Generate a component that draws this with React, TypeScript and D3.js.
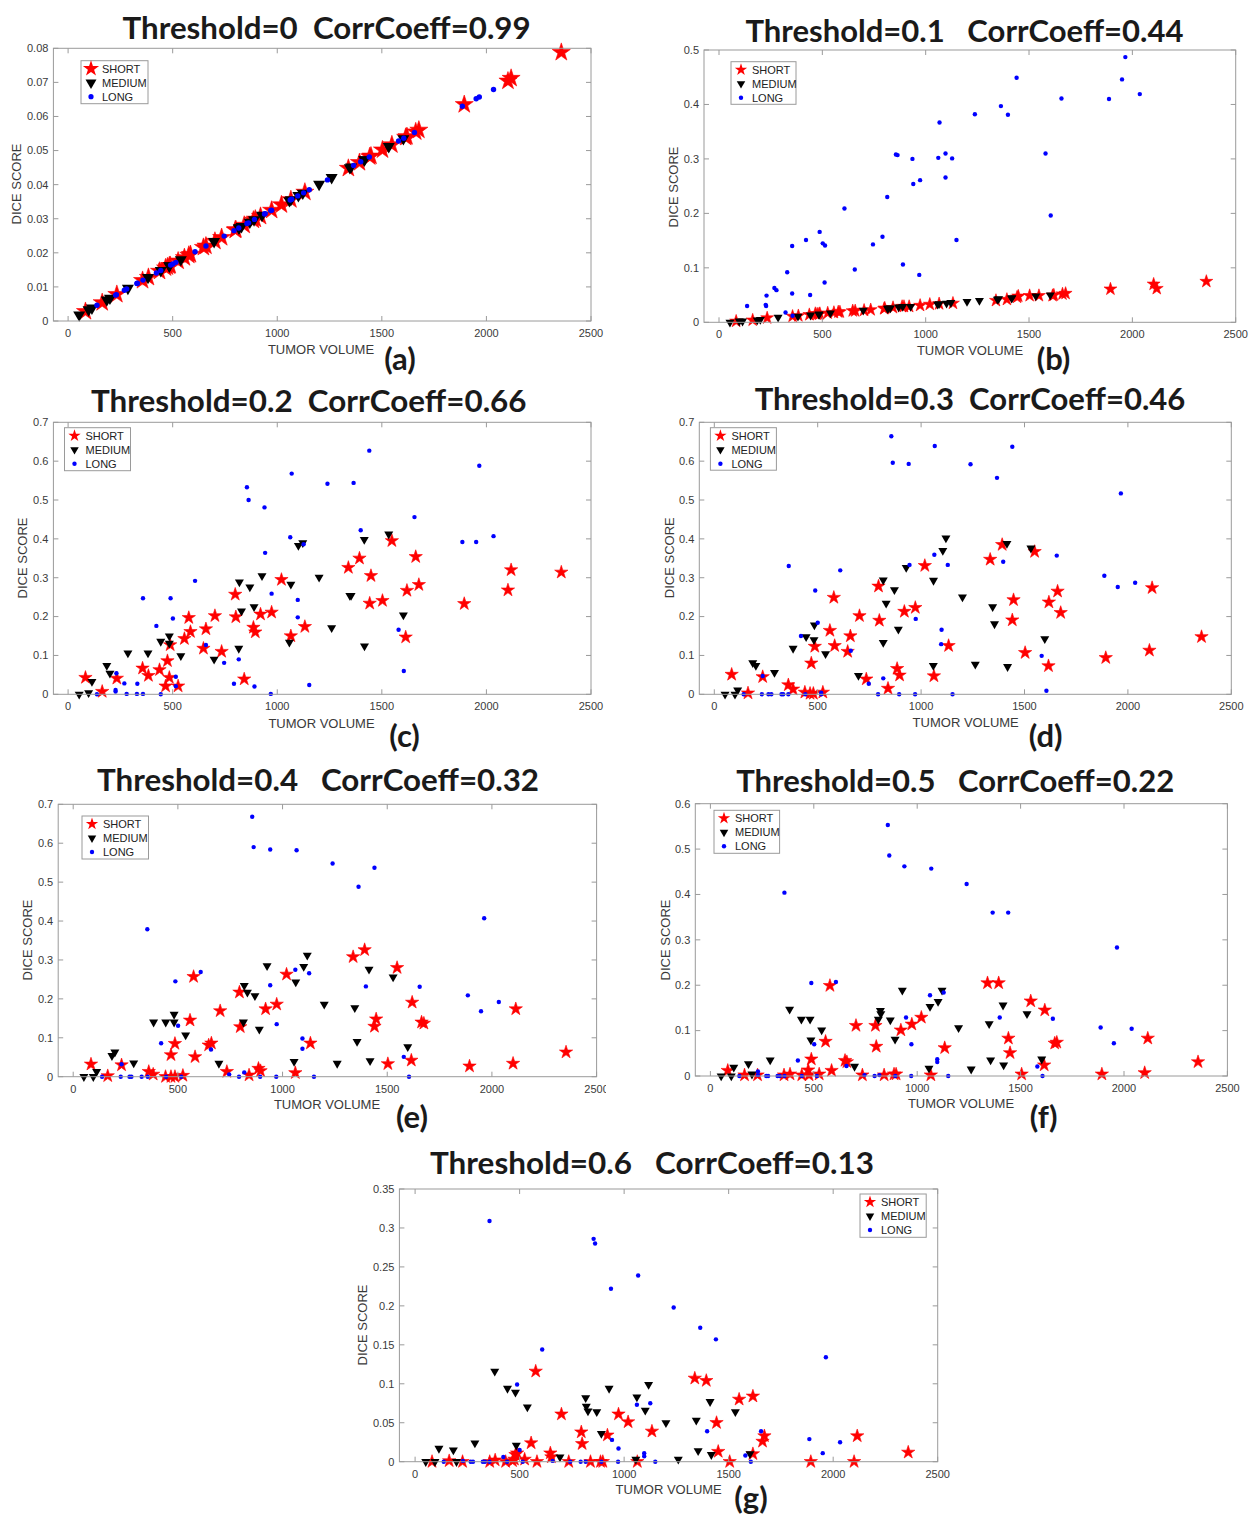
import React from "react";
import * as d3 from "d3";

type P = [number, number];

// ---------- data (tumor volume, dice score) ----------
const aShort: P[] = [[83,0.0028],[163,0.0054],[233,0.0078],[356,0.0119],[384,0.0128],[437,0.0146],[475,0.0159],[466,0.0156],[488,0.0163],[484,0.0162],[526,0.0176],[556,0.0186],[577,0.0193],[585,0.0195],[647,0.0216],[659,0.0220],[702,0.0234],[734,0.0245],[799,0.0267],[802,0.0268],[842,0.0281],[886,0.0296],[895,0.0299],[920,0.0307],[973,0.0325],[1020,0.0341],[1065,0.0356],[1132,0.0378],[1340,0.0448],[1393,0.0465],[1448,0.0484],[1442,0.0482],[1503,0.0502],[1548,0.0517],[1620,0.0541],[1614,0.0539],[1662,0.0555],[1677,0.0560],[1894,0.0635],[2103,0.0704],[2118,0.0712],[2358,0.0788]];
const aMedium: P[] = [[53,0.0018],[98,0.0033],[114,0.0038],[185,0.0062],[200,0.0067],[286,0.0096],[382,0.0128],[443,0.0148],[484,0.0162],[484,0.0162],[539,0.0180],[698,0.0233],[816,0.0273],[819,0.0274],[829,0.0277],[869,0.0290],[889,0.0297],[927,0.0310],[1065,0.0356],[1058,0.0353],[1101,0.0368],[1122,0.0375],[1200,0.0401],[1260,0.0421],[1347,0.0450],[1353,0.0452],[1416,0.0473],[1417,0.0473],[1533,0.0512],[1603,0.0535]];
const aLong: P[] = [[138,0.0046],[231,0.0077],[227,0.0076],[269,0.0090],[280,0.0094],[329,0.0110],[331,0.0111],[358,0.0120],[422,0.0141],[443,0.0148],[490,0.0164],[501,0.0167],[515,0.0172],[607,0.0203],[659,0.0220],[746,0.0249],[793,0.0265],[816,0.0273],[855,0.0286],[863,0.0288],[891,0.0298],[939,0.0314],[942,0.0315],[973,0.0325],[969,0.0324],[1062,0.0355],[1069,0.0357],[1098,0.0367],[1126,0.0376],[1153,0.0385],[1240,0.0414],[1365,0.0456],[1399,0.0467],[1440,0.0481],[1580,0.0528],[1605,0.0536],[1656,0.0553],[1885,0.0630],[1951,0.0652],[1966,0.0657],[2034,0.0679]];

const bShort: P[] = [[83,0.002],[163,0.004],[233,0.008],[356,0.011],[384,0.012],[437,0.014],[475,0.015],[466,0.016],[488,0.016],[484,0.015],[526,0.017],[556,0.018],[577,0.019],[585,0.019],[647,0.021],[659,0.021],[702,0.022],[734,0.023],[799,0.025],[802,0.026],[842,0.027],[886,0.029],[895,0.029],[920,0.029],[973,0.031],[1020,0.033],[1065,0.034],[1132,0.035],[1340,0.040],[1393,0.042],[1448,0.048],[1442,0.046],[1503,0.049],[1548,0.049],[1620,0.050],[1614,0.049],[1662,0.052],[1677,0.053],[1894,0.061],[2103,0.070],[2118,0.062],[2358,0.075]];
const bMedium: P[] = [[53,0.0],[98,0.002],[114,0.002],[185,0.004],[200,0.005],[286,0.009],[382,0.011],[443,0.013],[484,0.015],[484,0.014],[539,0.017],[698,0.022],[816,0.025],[819,0.026],[829,0.026],[869,0.028],[889,0.029],[927,0.029],[1065,0.034],[1058,0.033],[1101,0.035],[1122,0.036],[1200,0.038],[1260,0.040],[1347,0.042],[1353,0.043],[1416,0.044],[1417,0.045],[1533,0.048],[1603,0.050]];
const bLong: P[] = [[136,0.030],[230,0.049],[226,0.032],[228,0.030],[268,0.063],[278,0.059],[322,0.018],[330,0.092],[354,0.140],[354,0.053],[356,0.012],[421,0.151],[441,0.050],[487,0.166],[502,0.145],[513,0.141],[511,0.073],[607,0.209],[657,0.097],[745,0.143],[791,0.157],[814,0.230],[856,0.308],[864,0.307],[890,0.106],[936,0.300],[940,0.254],[973,0.261],[969,0.087],[1061,0.302],[1067,0.367],[1096,0.310],[1096,0.266],[1128,0.301],[1149,0.151],[1238,0.382],[1364,0.397],[1398,0.381],[1440,0.449],[1580,0.310],[1605,0.196],[1657,0.411],[1887,0.410],[1950,0.446],[1966,0.487],[2036,0.419]];

const cShort: P[] = [[83,0.043],[163,0.007],[233,0.041],[356,0.067],[384,0.048],[437,0.063],[475,0.086],[466,0.021],[488,0.127],[484,0.043],[526,0.021],[556,0.143],[577,0.197],[585,0.161],[647,0.118],[659,0.168],[702,0.202],[734,0.110],[799,0.257],[802,0.199],[842,0.039],[886,0.172],[895,0.160],[920,0.206],[973,0.211],[1020,0.295],[1065,0.150],[1132,0.174],[1340,0.326],[1393,0.350],[1448,0.305],[1442,0.234],[1503,0.241],[1548,0.395],[1620,0.267],[1614,0.147],[1662,0.354],[1677,0.282],[1894,0.233],[2103,0.268],[2118,0.320],[2358,0.314]];
const cMedium: P[] = [[53,0],[98,0.004],[114,0.033],[185,0.074],[200,0.054],[286,0.106],[382,0.106],[443,0.136],[484,0.150],[484,0.131],[539,0.099],[698,0.090],[816,0.118],[819,0.289],[829,0.214],[869,0.276],[889,0.225],[927,0.305],[1065,0.283],[1058,0.134],[1101,0.383],[1122,0.390],[1200,0.301],[1260,0.171],[1347,0.254],[1353,0.254],[1416,0.398],[1417,0.124],[1533,0.412],[1603,0.204]];
const cLong: P[] = [[138,0],[231,0.054],[227,0.007],[227,0.011],[269,0.028],[280,0.001],[329,0.001],[331,0.027],[358,0.247],[358,0.001],[422,0.176],[443,0],[490,0.247],[501,0.195],[515,0.045],[515,0.021],[607,0.292],[659,0.127],[746,0.081],[793,0.027],[816,0.090],[855,0.533],[863,0.500],[891,0.020],[939,0.481],[942,0.364],[973,0.259],[969,0.001],[1062,0.404],[1069,0.568],[1098,0.243],[1098,0.198],[1126,0.386],[1153,0.024],[1240,0.542],[1365,0.544],[1399,0.422],[1440,0.627],[1580,0.166],[1605,0.060],[1656,0.456],[1885,0.392],[1951,0.392],[1966,0.588],[2034,0.407]];

const dShort: P[] = [[84,0.051],[163,0.003],[234,0.045],[358,0.024],[381,0.013],[438,0.005],[463,0.002],[469,0.080],[479,0.002],[486,0.123],[525,0.005],[559,0.164],[578,0.249],[582,0.125],[645,0.110],[658,0.150],[702,0.202],[735,0.039],[794,0.278],[798,0.190],[840,0.015],[884,0.066],[896,0.049],[919,0.213],[972,0.223],[1018,0.331],[1062,0.047],[1133,0.125],[1334,0.347],[1392,0.385],[1447,0.243],[1441,0.191],[1503,0.107],[1549,0.367],[1618,0.237],[1616,0.073],[1660,0.265],[1675,0.210],[1893,0.094],[2104,0.113],[2117,0.274],[2356,0.148]];
const dMedium: P[] = [[52,0],[100,0],[113,0.011],[186,0.081],[201,0.074],[291,0.056],[381,0.118],[444,0.148],[482,0.140],[484,0.178],[538,0.104],[697,0.048],[817,0.294],[817,0.133],[831,0.234],[871,0.269],[890,0.167],[928,0.326],[1060,0.293],[1059,0.074],[1105,0.370],[1120,0.402],[1200,0.250],[1262,0.077],[1346,0.225],[1355,0.181],[1415,0.388],[1418,0.071],[1531,0.376],[1598,0.143]];
const dLong: P[] = [[142,0],[230,0],[234,0.047],[262,0],[276,0],[325,0],[333,0],[360,0.330],[358,0],[419,0.150],[440,0],[488,0.267],[500,0.184],[517,0.004],[517,0],[609,0.319],[660,0.112],[747,0.027],[792,0],[817,0.041],[856,0.664],[863,0.596],[894,0],[940,0.593],[944,0.333],[974,0.194],[971,0],[1064,0.359],[1066,0.639],[1099,0.166],[1097,0.129],[1129,0.333],[1152,0],[1239,0.592],[1367,0.557],[1397,0.341],[1441,0.637],[1583,0.099],[1606,0.009],[1656,0.357],[1886,0.305],[1951,0.276],[1966,0.517],[2035,0.287]];

const eShort: P[] = [[85,0.032],[165,0.002],[231,0.030],[361,0.013],[382,0.006],[441,0],[467,0.056],[467,0],[486,0.085],[486,0],[524,0.003],[558,0.145],[575,0.257],[582,0.051],[647,0.081],[660,0.086],[702,0.169],[734,0.013],[794,0.217],[798,0.128],[840,0.004],[885,0.021],[895,0.015],[919,0.174],[972,0.186],[1019,0.263],[1061,0.010],[1133,0.086],[1337,0.308],[1392,0.326],[1447,0.148],[1439,0.129],[1503,0.033],[1547,0.280],[1619,0.191],[1615,0.042],[1664,0.140],[1675,0.137],[1893,0.027],[2101,0.034],[2114,0.174],[2354,0.063]];
const eMedium: P[] = [[51,0],[96,0],[112,0.013],[185,0.054],[199,0.063],[289,0.035],[384,0.140],[442,0.140],[482,0.160],[482,0.140],[537,0.107],[696,0.034],[813,0.140],[817,0.234],[832,0.217],[868,0.208],[889,0.122],[926,0.285],[1063,0.243],[1055,0.039],[1101,0.283],[1118,0.312],[1199,0.186],[1261,0.034],[1345,0.177],[1356,0.090],[1413,0.276],[1418,0.041],[1528,0.256],[1598,0.077]];
const eLong: P[] = [[138,0],[227,0],[231,0.032],[269,0],[278,0],[327,0],[354,0.379],[356,0],[420,0.086],[444,0],[488,0.245],[501,0.131],[516,0],[609,0.269],[658,0.070],[745,0.006],[792,0],[817,0.011],[855,0.668],[862,0.590],[893,0],[941,0.584],[941,0.235],[972,0.135],[970,0],[1061,0.275],[1067,0.582],[1095,0.098],[1095,0.072],[1127,0.266],[1150,0],[1239,0.548],[1363,0.488],[1398,0.232],[1439,0.537],[1579,0.051],[1604,0],[1655,0.231],[1885,0.209],[1948,0.168],[1963,0.407],[2033,0.192]];

const fShort: P[] = [[84,0.012],[165,0.002],[228,0.002],[356,0.002],[385,0.004],[442,0.002],[473,0.013],[477,0.002],[488,0.037],[526,0.004],[557,0.076],[578,0.199],[586,0.012],[651,0.034],[660,0.031],[704,0.111],[735,0.002],[798,0.111],[802,0.065],[840,0.002],[888,0.004],[898,0.004],[921,0.101],[974,0.114],[1020,0.129],[1066,0.002],[1133,0.062],[1340,0.205],[1394,0.205],[1441,0.083],[1449,0.051],[1505,0.004],[1549,0.165],[1617,0.145],[1614,0.024],[1665,0.072],[1675,0.074],[1893,0.004],[2100,0.007],[2115,0.083],[2358,0.031]];
const fMedium: P[] = [[52,0],[101,0],[113,0.019],[184,0.027],[201,0.004],[289,0.035],[383,0.147],[440,0.125],[482,0.125],[486,0.079],[538,0.101],[697,0.021],[812,0.125],[822,0.144],[824,0.137],[870,0.123],[893,0.081],[928,0.189],[1057,0.017],[1062,0.153],[1101,0.164],[1120,0.189],[1200,0.106],[1261,0.015],[1348,0.115],[1355,0.035],[1415,0.156],[1418,0.024],[1531,0.137],[1602,0.037]];
const fLong: P[] = [[140,0],[230,0.010],[230,0.002],[270,0],[279,0],[325,0],[335,0],[358,0.404],[358,0],[423,0.034],[442,0],[488,0.205],[502,0.070],[515,0],[607,0.207],[658,0.022],[745,0.002],[794,0],[817,0.002],[858,0.553],[865,0.486],[894,0],[938,0.462],[946,0.129],[972,0.070],[971,0],[1062,0.178],[1068,0.457],[1097,0.037],[1097,0.031],[1128,0.184],[1150,0],[1239,0.423],[1365,0.360],[1399,0.129],[1440,0.360],[1581,0.021],[1606,0],[1656,0.126],[1887,0.107],[1951,0.072],[1966,0.283],[2037,0.104]];

const gShort: P[] = [[81,0],[163,0.001],[227,0],[357,0],[383,0.002],[433,0],[466,0.001],[475,0.003],[480,0.009],[488,0.011],[524,0.003],[555,0.024],[577,0.116],[583,0],[647,0.011],[652,0.006],[700,0.061],[735,0],[795,0.038],[799,0.023],[839,0],[887,0],[898,0],[920,0.034],[973,0.061],[1019,0.051],[1063,0],[1133,0.039],[1338,0.107],[1393,0.104],[1442,0.050],[1450,0.013],[1505,0],[1550,0.080],[1616,0.084],[1616,0.010],[1662,0.026],[1671,0.033],[1893,0],[2100,0],[2115,0.033],[2359,0.012]];
const gMedium: P[] = [[51,0],[95,0],[114,0.017],[183,0.015],[198,0],[286,0.024],[381,0.116],[442,0.094],[480,0.089],[484,0.021],[537,0.070],[693,0.006],[816,0.082],[819,0.071],[827,0.065],[869,0.064],[891,0.036],[928,0.094],[1056,0.003],[1061,0.083],[1101,0.066],[1117,0.099],[1200,0.050],[1259,0.003],[1345,0.053],[1354,0.014],[1411,0.077],[1417,0.009],[1532,0.064],[1602,0.010]];
const gLong: P[] = [[137,0],[229,0.001],[266,0],[277,0],[324,0],[334,0],[356,0.309],[356,0],[422,0.006],[440,0],[488,0.099],[500,0.015],[515,0],[608,0.144],[658,0.001],[742,0],[792,0],[816,0],[854,0.286],[861,0.280],[891,0],[937,0.222],[942,0.028],[973,0.017],[971,0],[1061,0.073],[1067,0.239],[1096,0.011],[1096,0.007],[1125,0.075],[1149,0],[1237,0.198],[1364,0.172],[1397,0.039],[1439,0.157],[1580,0.008],[1606,0],[1655,0.039],[1886,0.029],[1950,0.011],[1965,0.134],[2033,0.025]];

const xTickValues = [0, 500, 1000, 1500, 2000, 2500];
const yTicks8 = [0, 0.01, 0.02, 0.03, 0.04, 0.05, 0.06, 0.07, 0.08];
const yTicks5 = [0, 0.1, 0.2, 0.3, 0.4, 0.5];
const yTicks6 = [0, 0.1, 0.2, 0.3, 0.4, 0.5, 0.6];
const yTicks7 = [0, 0.1, 0.2, 0.3, 0.4, 0.5, 0.6, 0.7];
const yTicks35 = [0, 0.05, 0.1, 0.15, 0.2, 0.25, 0.3, 0.35];
const legendLabels = ["SHORT", "MEDIUM", "LONG"];

interface Cfg {
  id: string;
  title: string; tx: number; ty: number; tw: number;
  letter: string; lx: number; ly: number;
  left: number; right: number; top: number; bottom: number; x0: number;
  yMax: number; yTicks: number[];
  leg: [number, number, number, number];
  xlx: number; xly: number; ylx: number; yly: number;
  short: P[]; medium: P[]; long: P[];
  starR: number; triS: number; dotR: number;
  legStarR: number; legTriS: number; legDotR: number;
  clip?: [number, number, number, number];
}

const panels: Cfg[] = [
  { id: "a", title: "Threshold=0  CorrCoeff=0.99", tx: 326.6, ty: 39, tw: 408, letter: "(a)", lx: 400, ly: 370,
    left: 53.4, right: 591, top: 48.3, bottom: 321, x0: 68.1, yMax: 0.08, yTicks: yTicks8, leg: [81, 60.7, 67, 43],
    xlx: 321, xly: 354, ylx: 16, yly: 184, short: aShort, medium: aMedium, long: aLong, starR: 9.5, triS: 12, dotR: 2.7,
    legStarR: 8.5, legTriS: 11, legDotR: 2.6 },
  { id: "b", title: "Threshold=0.1   CorrCoeff=0.44", tx: 964.5, ty: 41.7, tw: 438, letter: "(b)", lx: 1053.5, ly: 370,
    left: 704, right: 1235.7, top: 50, bottom: 322.3, x0: 719, yMax: 0.5, yTicks: yTicks5, leg: [731, 61.7, 65, 42.6],
    xlx: 970, xly: 355, ylx: 673.5, yly: 187, short: bShort, medium: bMedium, long: bLong, starR: 6.8, triS: 9, dotR: 2.2,
    legStarR: 6.5, legTriS: 8.5, legDotR: 2.2 },
  { id: "c", title: "Threshold=0.2  CorrCoeff=0.66", tx: 308.8, ty: 412.3, tw: 435.5, letter: "(c)", lx: 404.6, ly: 746.7,
    left: 53.4, right: 591, top: 422.3, bottom: 694.3, x0: 68.1, yMax: 0.7, yTicks: yTicks7, leg: [64.5, 427.7, 66, 43],
    xlx: 321.5, xly: 728, ylx: 22.6, yly: 558, short: cShort, medium: cMedium, long: cLong, starR: 7, triS: 9, dotR: 2.2,
    legStarR: 6.5, legTriS: 8.5, legDotR: 2.2 },
  { id: "d", title: "Threshold=0.3  CorrCoeff=0.46", tx: 970, ty: 410, tw: 430.7, letter: "(d)", lx: 1045.7, ly: 746.7,
    left: 699.3, right: 1231.3, top: 422.3, bottom: 694.3, x0: 714.3, yMax: 0.7, yTicks: yTicks7, leg: [710.4, 427.7, 66, 42.5],
    xlx: 965.7, xly: 726.7, ylx: 669.6, yly: 557.7, short: dShort, medium: dMedium, long: dLong, starR: 7, triS: 9, dotR: 2.2,
    legStarR: 6.5, legTriS: 8.5, legDotR: 2.2 },
  { id: "e", title: "Threshold=0.4   CorrCoeff=0.32", tx: 318, ty: 790.7, tw: 442, letter: "(e)", lx: 412, ly: 1128,
    left: 58.2, right: 596.6, top: 804.3, bottom: 1076.7, x0: 73.2, yMax: 0.7, yTicks: yTicks7, leg: [82, 816, 66.5, 43],
    xlx: 327, xly: 1109.3, ylx: 27.7, yly: 940, short: eShort, medium: eMedium, long: eLong, starR: 7, triS: 9, dotR: 2.2,
    legStarR: 6.5, legTriS: 8.5, legDotR: 2.2, clip: [0, 760, 606, 380] },
  { id: "f", title: "Threshold=0.5   CorrCoeff=0.22", tx: 955.2, ty: 791.7, tw: 438, letter: "(f)", lx: 1043.7, ly: 1128,
    left: 695.3, right: 1227.4, top: 803.7, bottom: 1076, x0: 710.4, yMax: 0.6, yTicks: yTicks6, leg: [714, 810.3, 65.6, 43],
    xlx: 961, xly: 1108.3, ylx: 665.6, yly: 940, short: fShort, medium: fMedium, long: fLong, starR: 7, triS: 9, dotR: 2.2,
    legStarR: 6.5, legTriS: 8.5, legDotR: 2.2 },
  { id: "g", title: "Threshold=0.6   CorrCoeff=0.13", tx: 652, ty: 1174.3, tw: 444, letter: "(g)", lx: 751, ly: 1509,
    left: 399.4, right: 937.7, top: 1189, bottom: 1461.7, x0: 415.1, yMax: 0.35, yTicks: yTicks35, leg: [860, 1194, 66.2, 43.3],
    xlx: 668.7, xly: 1494, ylx: 362.2, yly: 1325, short: gShort, medium: gMedium, long: gLong, starR: 7, triS: 9, dotR: 2.2,
    legStarR: 6.5, legTriS: 8.5, legDotR: 2.2 },
];

const AXIS_FONT = "'Liberation Sans', Arial, Helvetica, sans-serif";
const TITLE_FONT = "Lato, 'Open Sans', 'DejaVu Sans', sans-serif";
const BOX = "#9a9a9a";
const TXT = "#3a3a3a";

const starPath = (R: number) => d3.symbol(d3.symbolStar, (R * R) / 0.8908130915292852)()!;
const triPath = (s: number) => d3.symbol(d3.symbolTriangle, (Math.sqrt(3) / 4) * s * s)()!;

const fmtY = (v: number) => (v === 0 ? "0" : String(+v.toFixed(3)));

function Markers({ cfg, x, y }: { cfg: Cfg; x: (v: number) => number; y: (v: number) => number }) {
  const sp = starPath(cfg.starR);
  const tp = triPath(cfg.triS);
  return (
    <g>
      {cfg.short.map((d, i) => (
        <path key={"s" + i} d={sp} transform={`translate(${x(d[0])},${y(d[1])})`} fill="#ff0000" stroke="#ff0000" strokeWidth={0.6} />
      ))}
      {cfg.medium.map((d, i) => (
        <path key={"m" + i} d={tp} transform={`translate(${x(d[0])},${y(d[1])}) rotate(180)`} fill="#000" />
      ))}
      {cfg.long.map((d, i) => (
        <circle key={"l" + i} cx={x(d[0])} cy={y(d[1])} r={cfg.dotR} fill="#0000ff" />
      ))}
    </g>
  );
}

function Panel({ cfg }: { cfg: Cfg }) {
  const x = d3.scaleLinear().domain([0, 2500]).range([cfg.x0, cfg.right]);
  const y = d3.scaleLinear().domain([0, cfg.yMax]).range([cfg.bottom, cfg.top]);
  const tl = 5;
  const [lx, ly, lw, lh] = cfg.leg;
  const legStar = starPath(cfg.legStarR);
  const legTri = triPath(cfg.legTriS);
  const body = (
    <g>
      <text x={cfg.tx} y={cfg.ty} textAnchor="middle" fontFamily={TITLE_FONT} fontWeight={700} fontSize={31}
        fill="#1a1a1a" textLength={cfg.tw} lengthAdjust="spacingAndGlyphs" style={{ whiteSpace: "pre" }}>
        {cfg.title}
      </text>
      <rect x={cfg.left} y={cfg.top} width={cfg.right - cfg.left} height={cfg.bottom - cfg.top} fill="#fff" stroke="none" />
      <Markers cfg={cfg} x={x} y={y} />
      <rect x={cfg.left} y={cfg.top} width={cfg.right - cfg.left} height={cfg.bottom - cfg.top} fill="none" stroke={BOX} strokeWidth={1} />
      {xTickValues.map((t) => (
        <g key={"xt" + t}>
          <line x1={x(t)} x2={x(t)} y1={cfg.bottom} y2={cfg.bottom - tl} stroke={BOX} />
          <line x1={x(t)} x2={x(t)} y1={cfg.top} y2={cfg.top + tl} stroke={BOX} />
          <text x={x(t)} y={cfg.bottom + 16} textAnchor="middle" fontFamily={AXIS_FONT} fontSize={11} fill={TXT}>{t}</text>
        </g>
      ))}
      {cfg.yTicks.map((t) => (
        <g key={"yt" + t}>
          <line x1={cfg.left} x2={cfg.left + tl} y1={y(t)} y2={y(t)} stroke={BOX} />
          <line x1={cfg.right} x2={cfg.right - tl} y1={y(t)} y2={y(t)} stroke={BOX} />
          <text x={cfg.left - 5} y={y(t)} dy="0.35em" textAnchor="end" fontFamily={AXIS_FONT} fontSize={11} fill={TXT}>{fmtY(t)}</text>
        </g>
      ))}
      <text x={cfg.xlx} y={cfg.xly} textAnchor="middle" fontFamily={AXIS_FONT} fontSize={13} fill={TXT}>TUMOR VOLUME</text>
      <text transform={`translate(${cfg.ylx},${cfg.yly}) rotate(-90)`} textAnchor="middle" dy="0.35em" fontFamily={AXIS_FONT} fontSize={13} fill={TXT}>DICE SCORE</text>
      <text x={cfg.lx} y={cfg.ly} textAnchor="middle" fontFamily={TITLE_FONT} fontWeight={700} fontSize={31} fill="#1a1a1a">{cfg.letter}</text>
      <g>
        <rect x={lx} y={ly} width={lw} height={lh} fill="#fff" stroke={BOX} />
        {legendLabels.map((lab, i) => {
          const cy = ly + 8 + i * 14;
          const mx = lx + 10;
          return (
            <g key={lab}>
              {i === 0 && <path d={legStar} transform={`translate(${mx},${cy})`} fill="#ff0000" />}
              {i === 1 && <path d={legTri} transform={`translate(${mx},${cy}) rotate(180)`} fill="#000" />}
              {i === 2 && <circle cx={mx} cy={cy} r={cfg.legDotR} fill="#0000ff" />}
              <text x={lx + 21} y={cy} dy="0.35em" fontFamily={AXIS_FONT} fontSize={11} fill="#222">{lab}</text>
            </g>
          );
        })}
      </g>
    </g>
  );
  if (cfg.clip) {
    const [cx, cy, cw, ch] = cfg.clip;
    return (
      <g>
        <defs>
          <clipPath id={"clip-" + cfg.id}>
            <rect x={cx} y={cy} width={cw} height={ch} />
          </clipPath>
        </defs>
        <g clipPath={`url(#clip-${cfg.id})`}>{body}</g>
      </g>
    );
  }
  return body;
}

export default function App() {
  return (
    <svg width={1257} height={1516} style={{ position: "absolute", left: 0, top: 0, display: "block", background: "#fff" }}>
      <rect x={0} y={0} width={1257} height={1516} fill="#fff" />
      {panels.map((p) => (
        <Panel key={p.id} cfg={p} />
      ))}
    </svg>
  );
}
